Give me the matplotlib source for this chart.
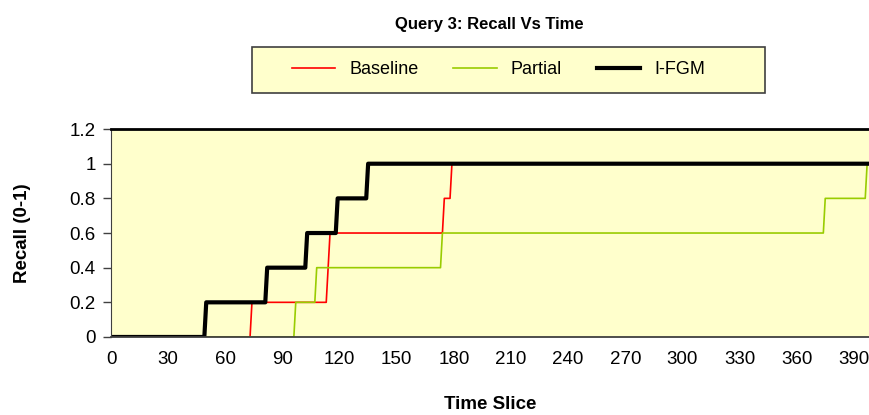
import matplotlib.pyplot as plt
from matplotlib.patches import Rectangle

plt.rcParams['font.family'] = ['Liberation Sans', 'DejaVu Sans']

# step vertices (time slice, recall) for each method
baseline_x = [0, 73, 74, 113, 114, 115, 174, 175, 178, 179, 398]
baseline_y = [0, 0, 0.2, 0.2, 0.4, 0.6, 0.6, 0.8, 0.8, 1.0, 1.0]

partial_x = [0, 96, 97, 107, 108, 173, 174, 374, 375, 396, 397, 398]
partial_y = [0, 0, 0.2, 0.2, 0.4, 0.4, 0.6, 0.6, 0.8, 0.8, 1.0, 1.0]

ifgm_x = [0, 49, 50, 81, 82, 102, 103, 118, 119, 134, 135, 398]
ifgm_y = [0, 0, 0.2, 0.2, 0.4, 0.4, 0.6, 0.6, 0.8, 0.8, 1.0, 1.0]

xticks = list(range(0, 391, 30))
yticks = [0, 0.2, 0.4, 0.6, 0.8, 1, 1.2]
ylabels = ['0', '0.2', '0.4', '0.6', '0.8', '1', '1.2']

fig = plt.figure(figsize=(8.7, 4.15), dpi=100)
ax = fig.add_axes([0.1276, 0.188, 0.8713, 0.501])
ax.set_facecolor('#FFFFCC')

ax.plot(baseline_x, baseline_y, color='#FF0000', lw=1.2, label='Baseline')
ax.plot(partial_x, partial_y, color='#99CC00', lw=1.2, label='Partial')
ax.plot(ifgm_x, ifgm_y, color='black', lw=3, label='I-FGM')

ax.set_xlim(0, 398)
ax.set_ylim(0, 1.2)
ax.set_xticks(xticks)
ax.set_yticks(yticks)
ax.set_yticklabels(ylabels)
ax.tick_params(axis='x', length=0, pad=10, labelsize=13.5)
ax.tick_params(axis='y', length=6, width=1, color='#404040', pad=5, labelsize=13.5)

ax.spines['top'].set_linewidth(2)
ax.spines['top'].set_color('black')
ax.spines['right'].set_visible(False)
ax.spines['left'].set_color('#404040')
ax.spines['bottom'].set_color('#404040')
ax.spines['bottom'].set_linewidth(1.3)

ax.set_xlabel('Time Slice', fontsize=13.5, fontweight='bold', labelpad=20)
ax.set_ylabel('Recall (0-1)', fontsize=13.5, fontweight='bold', labelpad=28)

fig.text(0.563, 0.94, 'Query 3: Recall Vs Time', ha='center', va='center',
         fontsize=12, fontweight='bold')

# legend box
fig.patches.append(Rectangle((0.2897, 0.776), 0.5896, 0.111, transform=fig.transFigure,
                             facecolor='#FFFFCC', edgecolor='#404040', lw=1.2, zorder=0))
leg = fig.legend(loc='center', bbox_to_anchor=(0.573, 0.8315), ncol=3, fontsize=13,
                 handlelength=2.4, handletextpad=0.8, columnspacing=1.9,
                 frameon=False)

fig.savefig('out.png', dpi=100)
